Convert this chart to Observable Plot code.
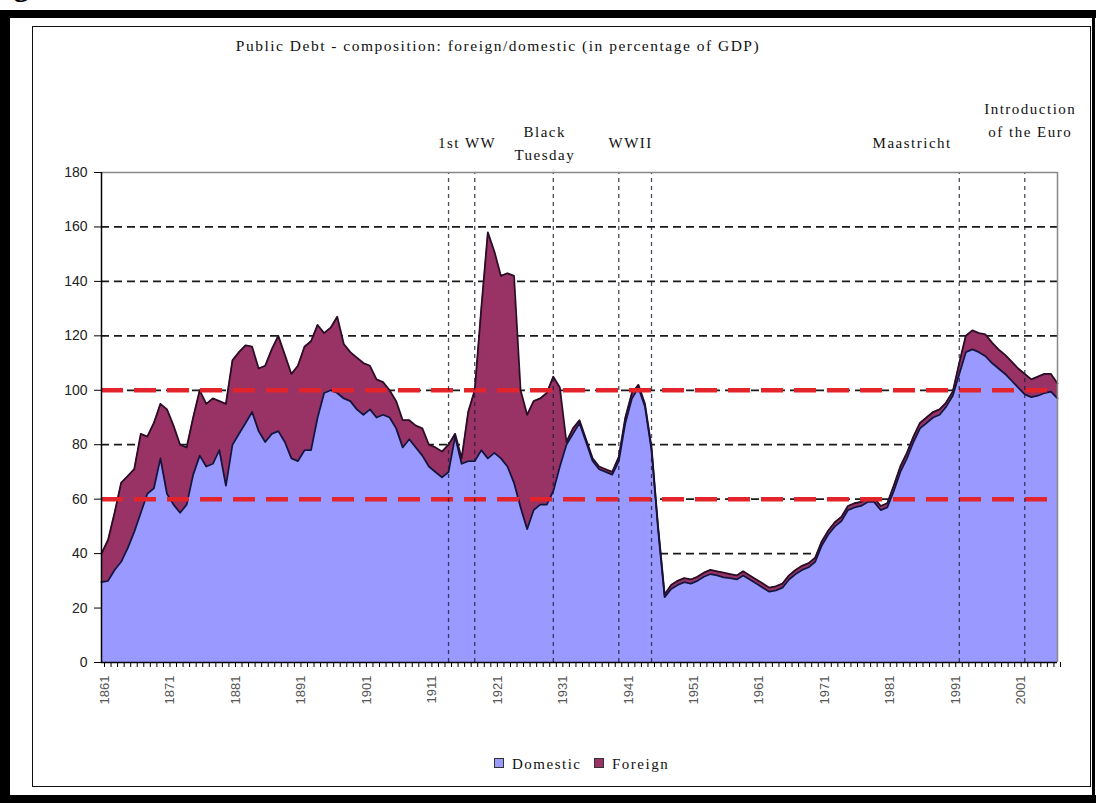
<!DOCTYPE html>
<html>
<head>
<meta charset="utf-8">
<script src="https://cdn.jsdelivr.net/npm/d3@7"></script>
<script src="https://cdn.jsdelivr.net/npm/@observablehq/plot@0.6"></script>
<style>
  html, body { margin: 0; padding: 0; background: #fff; overflow: hidden; }
  #wrap { position: relative; width: 1113px; height: 803px; overflow: hidden; background: #fff; }
  .bar { position: absolute; background: #000; }
  .inner { position: absolute; left: 32px; top: 26px; width: 1059px; height: 761px; border: 1.5px solid #111; box-sizing: border-box; }
  .fig { position: absolute; left: -13px; top: -31px; font: bold 30px "Liberation Serif", serif; line-height: 34px; color: #000; }
  #chart { position: absolute; left: 0; top: 0; }
  .title { position: absolute; left: 0; width: 996px; top: 37px; text-align: center; font: 15.5px "Liberation Serif", serif; letter-spacing: 1.5px; color: #111; white-space: nowrap; }
  .ann { position: absolute; font: 15px "Liberation Serif", serif; letter-spacing: 1.5px; color: #111; white-space: nowrap; line-height: 23px; text-align: center; }
  .legend { position: absolute; top: 756px; left: 0; width: 1113px; font: 15px "Liberation Serif", serif; letter-spacing: 1.5px; color: #111; }
  .legend .item { position: absolute; white-space: nowrap; }
  .legend .sw { display: inline-block; width: 8px; height: 8px; border: 1px solid #333; margin-right: 8px; vertical-align: 1px; }
</style>
</head>
<body>
<div id="wrap">
  <div class="fig">Figure</div>
  <div class="bar" style="left:0;top:10px;width:1096px;height:8px"></div>
  <div class="bar" style="left:0;top:10px;width:10px;height:793px"></div>
  <div class="bar" style="left:0;top:795px;width:1096px;height:8px"></div>
  <div class="bar" style="left:1092px;top:10px;width:3px;height:793px"></div>
  <div class="inner"></div>
  <div id="chart"></div>
  <div class="title">Public Debt - composition: foreign/domestic (in percentage of GDP)</div>
  <div id="anns"></div>
  <div class="legend" id="legend"></div>
</div>
<script>
// ---- data ----
const firstYear = 1861;
const lastYear = 2007;

// Domestic public debt, % of GDP, 1861..2007
const domestic = [
  29.5, 30, 34, 37, 42, 48, 55, 62, 64, 75,          // 1861-1870
  62, 58, 55, 58, 69, 76, 72, 73, 78, 65,            // 1871-1880
  80, 84, 88, 92, 85, 81, 84, 85, 81, 75,            // 1881-1890
  74, 78, 78, 90, 99, 100, 99, 97, 96, 93,           // 1891-1900
  91, 93, 90, 91, 90, 86, 79, 82, 79, 76,            // 1901-1910
  72, 70, 68, 70, 83, 73, 74, 74, 78, 75,            // 1911-1920
  77, 75, 72, 66, 57, 49, 56, 58, 58, 63,            // 1921-1930
  72, 80, 84, 88, 81, 74, 71, 70, 69, 74,            // 1931-1940
  88, 97, 101, 94, 78, 49, 24, 27, 28.5, 29.5,       // 1941-1950
  29, 30, 31.5, 32.5, 32, 31.3, 31, 30.5, 32, 30.5,  // 1951-1960
  29, 27.5, 26, 26.5, 27.5, 30.5, 32.5, 34, 35, 37,  // 1961-1970
  43, 47, 50, 52, 56, 57, 57.5, 59, 59, 56,          // 1971-1980
  57, 63, 70, 75, 81, 86, 88, 90, 91, 94,            // 1981-1990
  98, 106, 114, 115, 114, 112.5, 110, 108, 106, 103.5, // 1991-2000
  101, 98.5, 97.5, 98, 99, 99.5, 97                  // 2001-2007
];

// Foreign public debt, % of GDP, 1861..2007
const foreign = [
  10.5, 15, 21, 29, 26.5, 23, 29, 21, 24, 20,        // 1861-1870
  31, 29, 25, 21, 21, 24, 23, 24, 18, 30,            // 1871-1880
  31, 30, 28.5, 24, 23, 28, 31, 35, 32, 31,          // 1881-1890
  35, 38, 40, 34, 22, 23, 28, 20, 18, 19,            // 1891-1900
  19, 16, 14, 12, 10, 10, 10, 7, 8, 10,              // 1901-1910
  8, 9, 9.5, 10, 1, 2, 18, 26, 52, 83,               // 1911-1920
  74, 67, 71, 76, 43, 42, 40, 39, 41, 42,            // 1921-1930
  29, 1, 2, 1, 1, 1, 1, 1, 1, 1.5,                   // 1931-1940
  2, 2, 1, 1, 1, 1, 1, 1.5, 1.5, 1.5,                // 1941-1950
  1.5, 1.5, 1.5, 1.5, 1.5, 1.7, 1.5, 1.5, 1.5, 1.5,  // 1951-1960
  1.5, 1.5, 1.5, 1.5, 1.5, 1.5, 1.5, 1.5, 1.5, 1.5,  // 1961-1970
  1.5, 1.5, 1.5, 1.5, 1.5, 1.5, 1.5, 1.5, 1.5, 1.5,  // 1971-1980
  1.5, 2, 2, 2, 2, 2, 2, 2, 2, 1.5,                  // 1981-1990
  1.5, 4, 6, 7, 7, 8, 7.5, 7, 7, 7,                  // 1991-2000
  7, 7.5, 6.5, 7, 7, 6.5, 5.5                        // 2001-2007
];

const seriesNames = ["Domestic", "Foreign"];
const seriesColors = ["#9999ff", "#993366"];

const yTicks = [0, 20, 40, 60, 80, 100, 120, 140, 160, 180];
const gridLevels = [20, 40, 60, 80, 100, 120, 140, 160];
const thresholds = [60, 100];          // Maastricht criteria lines
const events = [1914, 1918, 1930, 1940, 1945, 1992, 2002];

const annotations = [
  {text: "1st WW", years: [1914, 1918], align: "center", dx: 6, top: 132},
  {text: "Black<br>Tuesday", years: [1930], align: "center", dx: -8, top: 121},
  {text: "WWII", years: [1940, 1945], align: "center", dx: -4, top: 132},
  {text: "Maastricht", years: [1992], align: "right", dx: -7, top: 132},
  {text: "Introduction<br>of the Euro", years: [2002], align: "center", dx: 6, top: 98}
];

// ---- build ----
const years = d3.range(firstYear, lastYear + 1);
const data = years.map((year, i) => ({
  year,
  domestic: domestic[i],
  foreign: foreign[i],
  total: domestic[i] + foreign[i]
}));

const chart = Plot.plot({
  width: 1113,
  height: 740,
  marginLeft: 101,
  marginRight: 56,
  marginTop: 172,
  marginBottom: 78,
  x: {domain: [firstYear, lastYear], label: null},
  y: {domain: [0, 180], label: null},
  style: {fontFamily: "'Liberation Sans', Arial, sans-serif", background: "transparent", overflow: "visible"},
  marks: [
    Plot.ruleY(gridLevels, {stroke: "#1a1a1a", strokeWidth: 1.7, strokeDasharray: "8,5"}),
    Plot.areaY(data, {x: "year", y1: 0, y2: "total", fill: seriesColors[1]}),
    Plot.areaY(data, {x: "year", y1: 0, y2: "domestic", fill: seriesColors[0]}),
    Plot.lineY(data, {x: "year", y: "total", stroke: "#2b0d26", strokeWidth: 1.8}),
    Plot.lineY(data, {x: "year", y: "domestic", stroke: "#14143c", strokeWidth: 1.8}),
    Plot.ruleY(thresholds, {stroke: "#e3242b", strokeWidth: 4.5, strokeDasharray: "22,11"}),
    Plot.ruleX(events, {y1: 0, y2: 180, stroke: "#1d1d3a", strokeOpacity: 0.8, strokeWidth: 1.3, strokeDasharray: "4,4"}),
    Plot.ruleY([180], {stroke: "#888", strokeWidth: 1.5}),
    Plot.ruleX([lastYear], {stroke: "#888", strokeWidth: 1.5}),
    Plot.axisY({ticks: yTicks, label: null, tickSize: 7, tickPadding: 7, fontSize: 14, stroke: "#000", fill: "#222", tickFormat: d => String(d)}),
    Plot.axisX({
      ticks: years, label: null, tickSize: 5, tickPadding: 8, tickRotate: -90, fontSize: 13,
      stroke: "#000", fill: "#555", dx: 3,
      tickFormat: d => (d - firstYear) % 10 === 0 ? String(d) : ""
    }),
    Plot.ruleY([0], {stroke: "#000", strokeWidth: 1.5}),
    Plot.ruleX([firstYear], {stroke: "#000", strokeWidth: 1.5})
  ]
});
document.getElementById("chart").appendChild(chart);

// annotations positioned through the chart's x scale
const xs = chart.scale("x");
const annBox = document.getElementById("anns");
for (const a of annotations) {
  const cx = d3.mean(a.years, y => xs.apply(y)) + a.dx;
  const div = document.createElement("div");
  div.className = "ann";
  div.innerHTML = a.text;
  div.style.top = a.top + "px";
  div.style.left = cx + "px";
  div.style.transform = a.align === "right" ? "translateX(-100%)" : "translateX(-50%)";
  annBox.appendChild(div);
}

// legend
const legend = document.getElementById("legend");
const legendLeft = [494, 594];
seriesNames.forEach((name, i) => {
  const item = document.createElement("div");
  item.className = "item";
  item.style.left = legendLeft[i] + "px";
  item.innerHTML = `<span class="sw" style="background:${seriesColors[i]}"></span>${name}`;
  legend.appendChild(item);
});
</script>
</body>
</html>
